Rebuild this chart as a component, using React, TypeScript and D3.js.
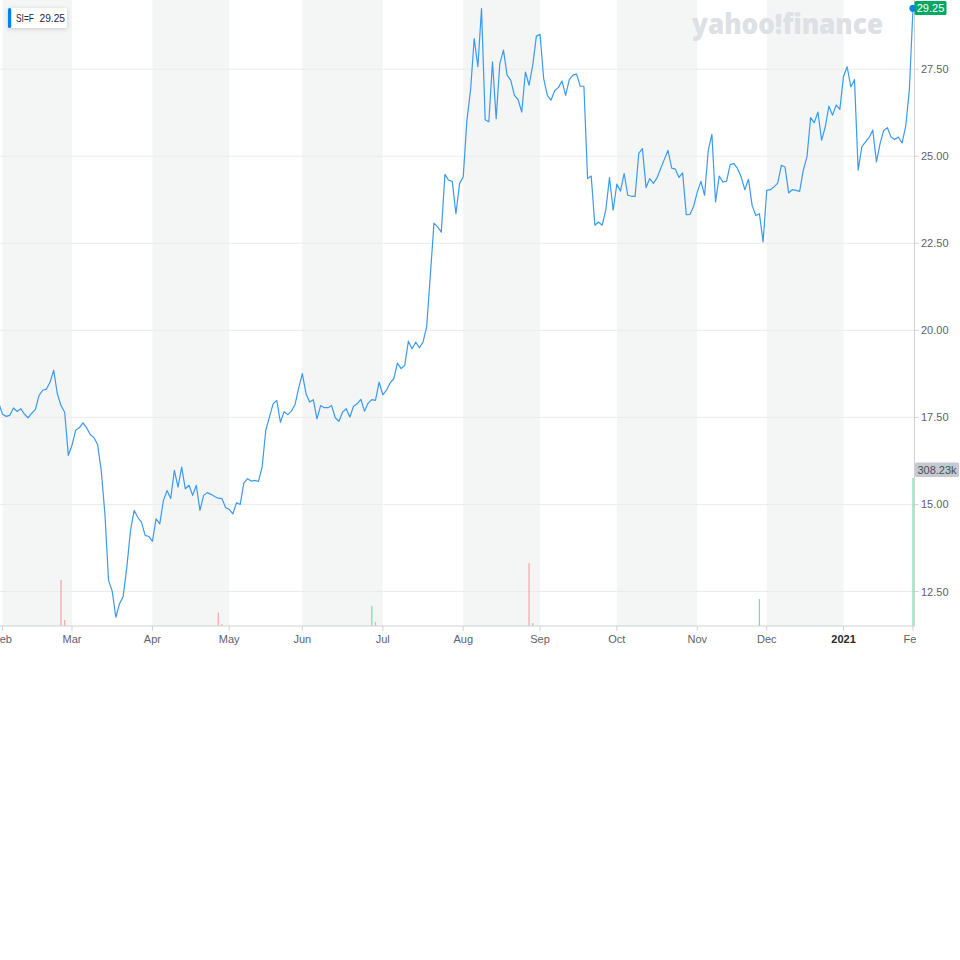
import React from 'react';
import * as d3 from 'd3';

// Daily closing prices of SI=F, one value per trading day (last value = 1 Feb 2021)
const closes: number[] = [
  17.90,
  17.59, 17.53, 17.56, 17.77, 17.67, 17.75, 17.59, 17.49, 17.62, 17.73,
  18.13, 18.28, 18.31, 18.51, 18.85, 18.18, 17.84, 17.65, 16.41, 16.70,
  17.13, 17.20, 17.34, 17.20, 17.01, 16.92, 16.72, 15.98, 14.74, 12.82,
  12.51, 11.76, 12.15, 12.36, 13.20, 14.25, 14.83, 14.63, 14.49, 14.11,
  14.08, 13.94, 14.59, 14.44, 15.11, 15.40, 15.17, 15.98, 15.50, 16.07,
  15.45, 15.55, 15.26, 15.55, 14.83, 15.26, 15.34, 15.29, 15.23, 15.18,
  15.17, 14.91, 14.86, 14.73, 15.05, 15.00, 15.61, 15.74, 15.67, 15.69,
  15.66, 16.07, 17.13, 17.51, 17.89, 17.99, 17.36, 17.66, 17.58, 17.68,
  17.87, 18.35, 18.76, 18.18, 17.94, 18.01, 17.46, 17.84, 17.78, 17.78,
  17.84, 17.49, 17.39, 17.65, 17.75, 17.51, 17.82, 17.89, 18.02, 17.68,
  17.91, 18.01, 17.99, 18.51, 18.15, 18.28, 18.49, 18.61, 19.06, 18.90,
  18.99, 19.69, 19.47, 19.66, 19.50, 19.66, 20.11, 21.58, 23.08, 22.97,
  22.82, 24.48, 24.31, 24.28, 23.35, 24.22, 24.41, 26.03, 26.90, 28.38,
  27.57, 29.24, 26.05, 25.99, 27.71, 26.08, 27.66, 28.05, 27.33, 27.18,
  26.75, 26.63, 26.27, 27.42, 27.04, 27.61, 28.45, 28.50, 27.23, 26.75,
  26.61, 26.88, 26.97, 27.16, 26.75, 27.20, 27.33, 27.36, 27.01, 27.01,
  24.36, 24.43, 23.02, 23.11, 23.02, 23.47, 24.39, 23.45, 24.20, 24.00,
  24.50, 23.88, 23.85, 23.85, 25.08, 25.22, 24.10, 24.36, 24.22, 24.38,
  24.65, 24.91, 25.17, 24.66, 24.63, 24.39, 24.52, 23.32, 23.33, 23.56,
  23.97, 24.28, 23.88, 25.17, 25.63, 23.69, 24.43, 24.26, 24.28, 24.76,
  24.79, 24.65, 24.41, 24.04, 24.34, 23.59, 23.30, 23.35, 22.54, 24.02,
  24.04, 24.12, 24.23, 24.74, 24.69, 23.95, 24.04, 24.02, 23.99, 24.60,
  24.98, 26.11, 25.96, 26.27, 25.46, 25.84, 26.44, 26.18, 26.47, 26.35,
  27.30, 27.57, 26.99, 27.20, 24.60, 25.27, 25.41, 25.54, 25.75, 24.84,
  25.36, 25.75, 25.82, 25.55, 25.48, 25.55, 25.38, 25.86, 26.90,
  29.25,
];

const monthLabels = ['Feb', 'Mar', 'Apr', 'May', 'Jun', 'Jul', 'Aug', 'Sep', 'Oct', 'Nov', 'Dec', '2021', 'Feb'];
const monthStarts = [1, 20, 42, 63, 83, 105, 127, 148, 169, 191, 210, 231, 250];
const priceTicks = [12.5, 15, 17.5, 20, 22.5, 25, 27.5];

const volumeIdx = [17, 18, 60, 61, 102, 103, 145, 146, 208, 250];
const volumeValues = [96000, 12500, 28000, 4000, 42000, 8000, 131000, 6000, 56000, 308230];
const volumeUp = [false, false, false, false, true, false, false, true, true, true];

const symbol = 'SI=F';
const lastPrice = 29.25;
const lastVolumeLabel = '308.23k';

const FONT = '"Liberation Sans", Arial, Helvetica, sans-serif';

export default function App() {
  const plotRight = 914.5;
  const plotBottom = 626;
  const x = d3.scaleLinear().domain([1, closes.length - 1]).range([2.5, 913]);
  const y = d3.scaleLinear().domain([12.5, 27.5]).range([591.5, 69.2]);
  const yVol = d3.scaleLinear().domain([0, d3.max(volumeValues) as number]).range([plotBottom, 478]);

  const line = d3.line<number>().x((_, i) => x(i)).y((d) => y(d)).curve(d3.curveLinear);
  const path = line(closes) || '';

  const bands = monthStarts.slice(0, -1).map((s, k) => ({
    x0: x(s),
    x1: x(monthStarts[k + 1]),
    shaded: k % 2 === 0,
  }));

  const last = closes.length - 1;

  return (
    <svg width={960} height={960} style={{ position: 'absolute', left: 0, top: 0, background: '#fff' }} fontFamily={FONT}>
      <defs>
        <clipPath id="xclip">
          <rect x={0} y={0} width={plotRight + 1.5} height={700} />
        </clipPath>
        <clipPath id="plotclip">
          <rect x={0} y={0} width={960} height={plotBottom} />
        </clipPath>
        <filter id="shadow" x="-30%" y="-50%" width="160%" height="200%">
          <feDropShadow dx={0} dy={1} stdDeviation={2} floodColor="#000" floodOpacity={0.18} />
        </filter>
      </defs>

      {/* month bands */}
      {bands.filter((b) => b.shaded).map((b, k) => (
        <rect key={k} x={b.x0} y={0} width={b.x1 - b.x0} height={plotBottom} fill="#f4f5f5" />
      ))}

      {/* gridlines */}
      {priceTicks.map((t) => (
        <line key={t} x1={0} x2={plotRight} y1={y(t)} y2={y(t)} stroke="#ebebeb" strokeWidth={1} />
      ))}

      {/* watermark */}
      <text x={692} y={33.5} fontFamily='"Open Sans", Lato, sans-serif' fontWeight={800} fontSize={28}
        fill="#dde0e4" textLength={191} lengthAdjust="spacingAndGlyphs">yahoo!finance</text>

      {/* volume bars */}
      {volumeIdx.map((vi, k) => (
        <rect key={k} x={x(vi) - 0.6} y={yVol(volumeValues[k])} width={1.2}
          height={plotBottom - yVol(volumeValues[k])}
          fill={volumeUp[k] ? '#7fd8b0' : '#f7a3a6'} />
      ))}

      {/* price line */}
      <g clipPath="url(#plotclip)">
        <path d={path} fill="none" stroke="#3a9af2" strokeWidth={1.2} strokeLinejoin="round" />
      </g>

      {/* axes */}
      <line x1={0} x2={plotRight} y1={plotBottom} y2={plotBottom} stroke="#cfd2d4" />
      <line x1={plotRight} x2={plotRight} y1={0} y2={plotBottom} stroke="#cfd2d4" />

      {/* right axis ticks */}
      {priceTicks.map((t) => (
        <g key={t}>
          <line x1={plotRight} x2={plotRight + 4} y1={y(t)} y2={y(t)} stroke="#cfd2d4" />
          <text x={921} y={y(t) + 4} fontSize={11} fill="#5b636a">{t.toFixed(2)}</text>
        </g>
      ))}

      {/* bottom axis ticks */}
      <g clipPath="url(#xclip)">
        {monthStarts.map((s, k) => (
          <g key={k}>
            <line x1={x(s)} x2={x(s)} y1={plotBottom} y2={plotBottom + 5} stroke="#cfd2d4" />
            <text x={x(s)} y={643} fontSize={11} textAnchor="middle"
              fill={monthLabels[k] === '2021' ? '#232a31' : '#5b636a'}
              fontWeight={monthLabels[k] === '2021' ? 700 : 400}>{monthLabels[k]}</text>
          </g>
        ))}
      </g>

      {/* last price marker */}
      <circle cx={x(last)} cy={y(closes[last])} r={3.6} fill="#0081f2" />
      <rect x={914.5} y={1} width={32} height={14} rx={1.5} fill="#00a862" />
      <text x={930.5} y={12} fontSize={11} fill="#fff" textAnchor="middle">{lastPrice.toFixed(2)}</text>

      {/* last volume label */}
      <rect x={915} y={462.5} width={44} height={14.5} rx={1.5} fill="#c6cad0" />
      <text x={937} y={473.5} fontSize={11} fill="#464e56" textAnchor="middle">{lastVolumeLabel}</text>

      {/* legend */}
      <g filter="url(#shadow)">
        <rect x={8} y={8} width={59} height={20} rx={2} fill="#fff" />
      </g>
      <rect x={8} y={8} width={3.2} height={20} rx={1.5} fill="#0081f2" />
      <text x={16} y={22} fontSize={11} fill="#232a31" textLength={18} lengthAdjust="spacingAndGlyphs">{symbol}</text>
      <text x={39.5} y={22} fontSize={11} fill="#232a31" textLength={25.5} lengthAdjust="spacingAndGlyphs">{lastPrice.toFixed(2)}</text>
    </svg>
  );
}
